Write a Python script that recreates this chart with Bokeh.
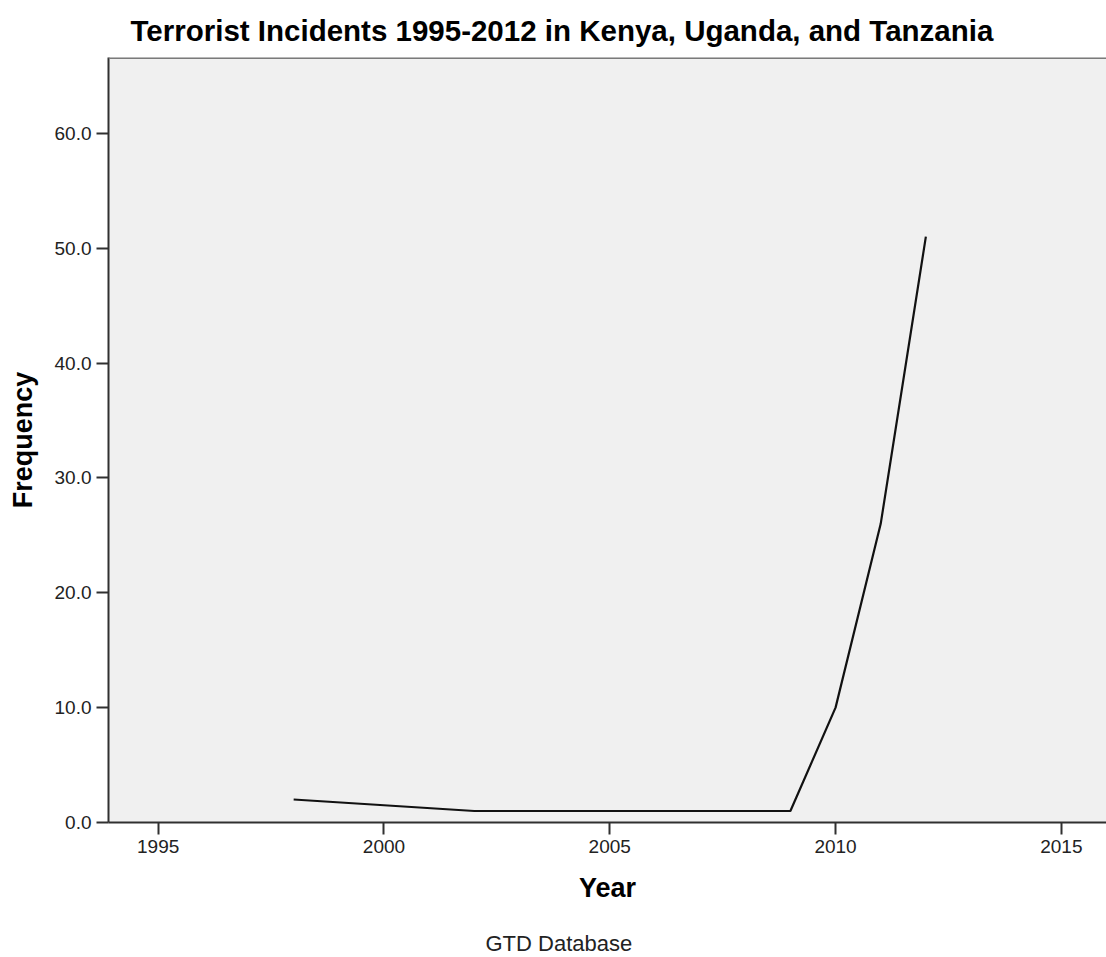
from bokeh.plotting import figure
from bokeh.models import Range1d, FixedTicker, NumeralTickFormatter, Span, Title
from bokeh.embed import file_html
from bokeh.resources import INLINE

# ---- data ----
years = [1998, 2002, 2009, 2010, 2011, 2012]
incidents = [2, 1, 1, 10, 26, 51]
x_ticks = [1995, 2000, 2005, 2010, 2015]
y_ticks = [0, 10, 20, 30, 40, 50, 60]
title_text = "Terrorist Incidents 1995-2012 in Kenya, Uganda, and Tanzania"
x_label = "Year"
y_label = "Frequency"
footnote = "GTD Database"

FONT = "Liberation Sans"
AXIS_COLOR = "#303030"
X_START, X_END = 1993.9, 2016.0
Y_MAX = 66.6

p = figure(
    width=1106, height=957,
    output_backend="svg", toolbar_location=None,
    x_range=Range1d(X_START, X_END),
    y_range=Range1d(0, Y_MAX),
    min_border_left=108, min_border_right=0,
    min_border_top=57, min_border_bottom=135,
    background_fill_color="#f0f0f0",
    border_fill_color="white",
    outline_line_color=None,
)

# title
p.title.text = title_text
p.title.text_font = FONT
p.title.text_font_size = "29.5px"
p.title.text_font_style = "bold"
p.title.text_color = "black"
p.title.align = "left"
p.title.offset = 22
p.title.standoff = 21

# line
p.line(years, incidents, line_color="#111111", line_width=2.2)

# top border of frame
p.add_layout(Span(location=Y_MAX, dimension="width", line_color="#7a7a7a", line_width=3))

# grids off
p.xgrid.grid_line_color = None
p.ygrid.grid_line_color = None

xaxis = p.xaxis[0]
yaxis = p.yaxis[0]

# axes
for ax in (xaxis, yaxis):
    ax.axis_line_color = AXIS_COLOR
    ax.axis_line_width = 2
    ax.major_tick_line_color = AXIS_COLOR
    ax.major_tick_line_width = 2
    ax.major_tick_out = 12
    ax.major_tick_in = 0
    ax.minor_tick_line_color = None
    ax.major_label_text_font = FONT
    ax.major_label_text_font_size = "19px"
    ax.major_label_text_color = "#222222"
    ax.axis_label_text_font = FONT
    ax.axis_label_text_font_size = "27px"
    ax.axis_label_text_font_style = "bold"
    ax.axis_label_text_color = "black"

xaxis.ticker = FixedTicker(ticks=x_ticks)
yaxis.ticker = FixedTicker(ticks=y_ticks)
yaxis.formatter = NumeralTickFormatter(format="0.0")
xaxis.axis_label = x_label
yaxis.axis_label = y_label
xaxis.major_label_standoff = 5
yaxis.major_label_standoff = 5
xaxis.axis_label_standoff = 17
yaxis.axis_label_standoff = 14

# footnote below the chart (a leading blank line gives the gap under "Year")
p.add_layout(Title(
    text="\n" + footnote, align="left", offset=377, standoff=0,
    text_font=FONT, text_font_size="22px", text_font_style="normal",
    text_line_height=0.9,
    text_color="#222222",
), "below")

open("out.html", "w").write(file_html(p, INLINE))
